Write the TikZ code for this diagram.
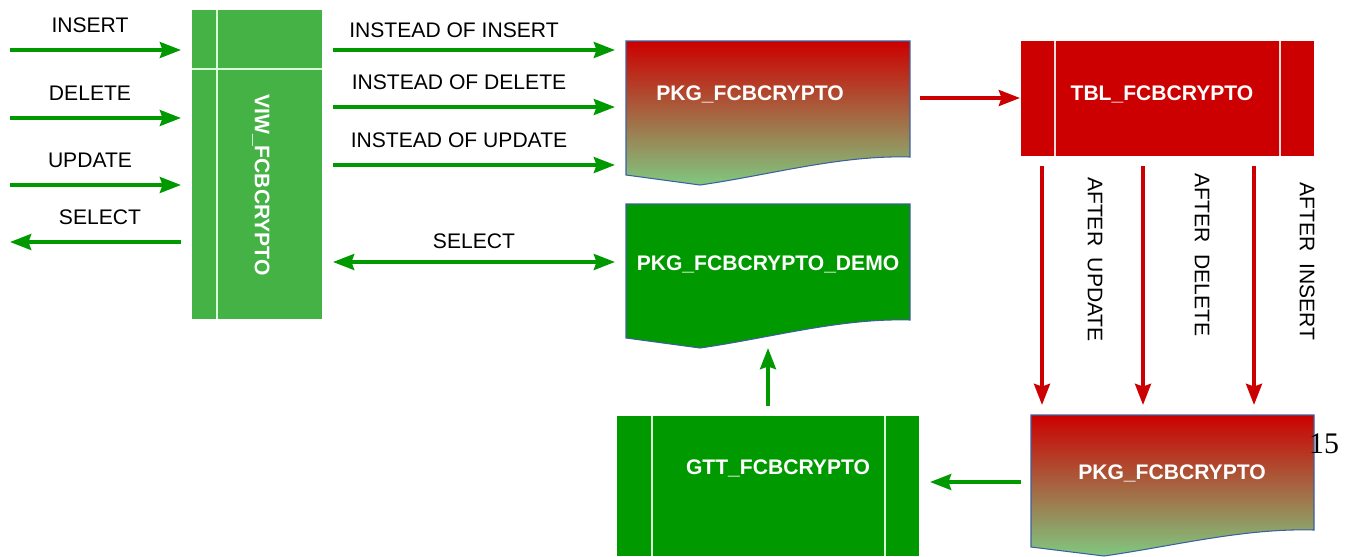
\documentclass[tikz,border=0pt]{standalone}
\usepackage{fontspec}
\usetikzlibrary{arrows.meta}
\newfontfamily\diagfont{Liberation Sans}
\newfontfamily\pagefont{Liberation Serif}

\definecolor{flowgreen}{RGB}{0,153,0}
\definecolor{viewgreen}{RGB}{68,178,68}
\definecolor{tblred}{RGB}{204,0,0}
\definecolor{palegreen}{RGB}{128,200,128}
\definecolor{docblue}{RGB}{60,95,160}

\tikzset{
  flowtip/.tip={Stealth[length=12pt,width=9pt,inset=1.5pt]},
  garrow/.style={draw=flowgreen,line width=2.2pt,-flowtip},
  rarrow/.style={draw=tblred,line width=2.2pt,-flowtip},
  opname/.style={font=\diagfont\fontsize{12}{14}\selectfont,text=black,inner sep=0pt},
  boxname/.style={font=\diagfont\bfseries\fontsize{12}{14}\selectfont,text=white,inner sep=0pt},
  sepline/.style={draw=white!85!green,line width=0.6pt},
  docline/.style={draw=docblue,line width=0.6pt}
}

\begin{document}
\begin{tikzpicture}[x=0.2mm,y=-0.2mm]

   \useasboundingbox (0,0) rectangle (1350,556);

   % view box
   \fill [viewgreen] (192,10) rectangle (322,319);
   \draw [sepline] (217,10) -- (217,319) (192,69) -- (322,69);
   \node[boxname,rotate=-90] (viw) at (261,185) {VIW\_FCBCRYPTO};

   % dml on the view
   \coordinate (insA) at (10,50);   \coordinate (insB) at (181,50);
   \coordinate (delA) at (10,118);  \coordinate (delB) at (181,118);
   \coordinate (updA) at (10,185);  \coordinate (updB) at (181,185);
   \coordinate (selA) at (181,242); \coordinate (selB) at (10,242);
   \draw[garrow] (insA) -- (insB);
   \draw[garrow] (delA) -- (delB);
   \draw[garrow] (updA) -- (updB);
   \draw[garrow] (selA) -- (selB);
   \node[opname,anchor=base] (ins) at (90,32) {INSERT};
   \node[opname,anchor=base] (del) at (90,100) {DELETE};
   \node[opname,anchor=base] (upd) at (90,167) {UPDATE};
   \node[opname,anchor=base] (sel) at (100,224) {SELECT};

   % instead of triggers
   \coordinate (iinsA) at (333,50);  \coordinate (iinsB) at (615,50);
   \coordinate (idelA) at (333,107); \coordinate (idelB) at (615,107);
   \coordinate (iupdA) at (333,165); \coordinate (iupdB) at (615,165);
   \coordinate (iselA) at (333,262); \coordinate (iselB) at (615,262);
   \draw[garrow] (iinsA) -- (iinsB);
   \draw[garrow] (idelA) -- (idelB);
   \draw[garrow] (iupdA) -- (iupdB);
   \draw[garrow,flowtip-flowtip] (iselA) -- (iselB);
   \node[opname,anchor=base] (iins) at (454,37) {INSTEAD OF INSERT};
   \node[opname,anchor=base] (idel) at (459,89) {INSTEAD OF DELETE};
   \node[opname,anchor=base] (iupd) at (459,147) {INSTEAD OF UPDATE};
   \node[opname,anchor=base] (isel) at (474,248) {SELECT};

   % package (top)
   \shade[top color=tblred,bottom color=palegreen] (626,41) -- (910,41) -- (910,157)
      .. controls (840,155) and (770,175) .. (700,185) -- (626,175) -- cycle;
   \draw[docline] (626,41) -- (910,41) -- (910,157)
      .. controls (840,155) and (770,175) .. (700,185) -- (626,175) -- cycle;
   \node[boxname,anchor=base] (pkg) at (750,100) {PKG\_FCBCRYPTO};

   % demo package
   \fill[flowgreen] (626,204) -- (910,204) -- (910,320)
      .. controls (840,318) and (770,338) .. (700,348) -- (626,338) -- cycle;
   \draw[docline] (626,204) -- (910,204) -- (910,320)
      .. controls (840,318) and (770,338) .. (700,348) -- (626,338) -- cycle;
   \node[boxname,anchor=base] (demo) at (768,270) {PKG\_FCBCRYPTO\_DEMO};

   % table
   \coordinate (pkgR) at (920,98); \coordinate (tblL) at (1020,98);
   \draw[rarrow] (pkgR) -- (tblL);
   \fill [tblred] (1021,41) rectangle (1314,156);
   \draw [sepline,draw=white!85!red] (1055,41) -- (1055,156) (1280,41) -- (1280,156);
   \node[boxname,anchor=base] (tbl) at (1162,100) {TBL\_FCBCRYPTO};

   % after triggers
   \coordinate (aupdA) at (1042,166); \coordinate (aupdB) at (1042,405);
   \coordinate (adelA) at (1143,166); \coordinate (adelB) at (1143,405);
   \coordinate (ainsA) at (1254,166); \coordinate (ainsB) at (1254,405);
   \draw[rarrow] (aupdA) -- (aupdB);
   \draw[rarrow] (adelA) -- (adelB);
   \draw[rarrow] (ainsA) -- (ainsB);
   \node[opname,rotate=-90] (aupd) at (1095,259.5) {AFTER\ \ UPDATE};
   \node[opname,rotate=-90] (adel) at (1202,255) {AFTER\ \ DELETE};
   \node[opname,rotate=-90] (ains) at (1307,261.5) {AFTER\ \ INSERT};

   % package (bottom)
   \shade[top color=tblred,bottom color=palegreen] (1031,415) -- (1314,415) -- (1314,530)
      .. controls (1244,528) and (1174,546) .. (1104,556) -- (1031,547) -- cycle;
   \draw[docline] (1031,415) -- (1314,415) -- (1314,530)
      .. controls (1244,528) and (1174,546) .. (1104,556) -- (1031,547) -- cycle;
   \node[boxname,anchor=base] (pkgb) at (1172,479) {PKG\_FCBCRYPTO};
   \node[font=\pagefont\fontsize{17}{20}\selectfont,anchor=base,inner sep=0pt] (page) at (1324,453) {15};

   % temp table
   \coordinate (pkgbL) at (1021,482); \coordinate (gttR) at (930,482);
   \draw[garrow] (pkgbL) -- (gttR);
   \fill [flowgreen] (617,416) rectangle (919,556);
   \draw [sepline] (652,416) -- (652,556) (885,416) -- (885,556);
   \node[boxname,anchor=base] (gtt) at (778,474) {GTT\_FCBCRYPTO};
   \coordinate (gttT) at (768,406); \coordinate (demoB) at (768,348);
   \draw[garrow] (gttT) -- (demoB);

\end{tikzpicture}
\end{document}
